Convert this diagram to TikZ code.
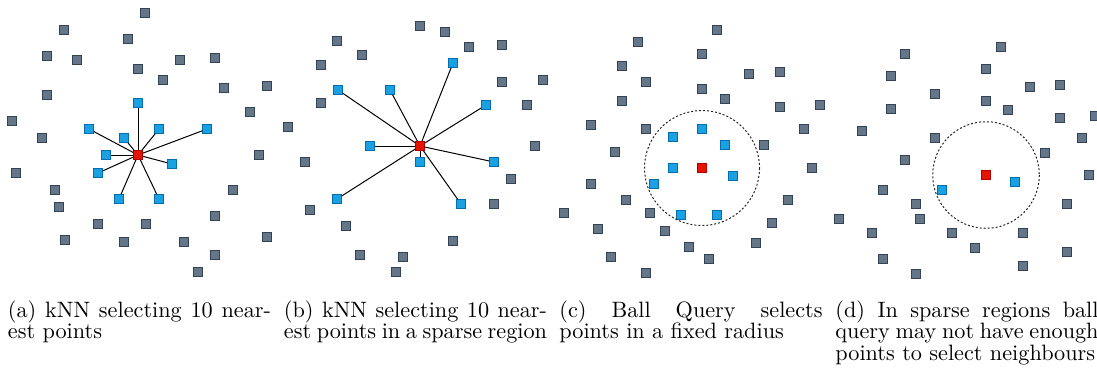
\documentclass[tikz,border=0pt]{standalone}
\usepackage{tikz}

\definecolor{ptfill}{HTML}{647687}
\definecolor{ptline}{HTML}{314354}
\definecolor{nbfill}{HTML}{1BA1E2}
\definecolor{nbline}{HTML}{006EAF}
\definecolor{qfill}{HTML}{E51400}
\definecolor{qline}{HTML}{B20000}

\begin{document}
\begin{tikzpicture}[
  x=0.45pt, y=-0.45pt,
  point/.style={rectangle, draw=ptline, fill=ptfill, line width=0.5pt, minimum size=3.8pt, inner sep=0pt},
  neighbour/.style={point, draw=nbline, fill=nbfill},
  query/.style={point, draw=qline, fill=qfill},
  link/.style={line width=0.45pt},
  ball/.style={draw=black!85, line width=0.45pt, dash pattern=on 0.9pt off 0.9pt},
  caption/.style={anchor=base west, inner sep=0pt, text width=118.4pt, align=justify, font=\fontsize{10}{9.8}\selectfont}
]
\useasboundingbox (0,0) rectangle (1097,370);

% (a) kNN, dense
\node[point] (pa1) at (145,13) {};
\node[point] (pa2) at (64,30) {};
\node[point] (pa3) at (128,39) {};
\node[point] (pa4) at (47,56) {};
\node[point] (pa5) at (77,60) {};
\node[point] (pa6) at (180,60) {};
\node[point] (pa7) at (215,58) {};
\node[point] (pa8) at (138,69) {};
\node[point] (pa9) at (163,80) {};
\node[point] (pa10) at (224,88) {};
\node[point] (pa11) at (267,86) {};
\node[point] (pa12) at (47,95) {};
\node[point] (pa13) at (250,112) {};
\node[point] (pa14) at (12,121) {};
\node[point] (pa15) at (42,138) {};
\node[point] (pa16) at (259,155) {};
\node[point] (pa17) at (16,173) {};
\node[point] (pa18) at (55,190) {};
\node[point] (pa19) at (233,190) {};
\node[point] (pa20) at (59,207) {};
\node[point] (pa21) at (215,216) {};
\node[point] (pa22) at (98,224) {};
\node[point] (pa23) at (146,224) {};
\node[point] (pa24) at (65,240) {};
\node[point] (pa25) at (124,242) {};
\node[point] (pa26) at (184,242) {};
\node[point] (pa27) at (267,237) {};
\node[point] (pa28) at (215,255) {};
\node[point] (pa29) at (198,272) {};
\node[query] (qa) at (138,155) {};
\node[neighbour] (na1) at (138,103) {};
\node[neighbour] (na2) at (89,129) {};
\node[neighbour] (na3) at (159,129) {};
\node[neighbour] (na4) at (207,129) {};
\node[neighbour] (na5) at (124,138) {};
\node[neighbour] (na6) at (106,155) {};
\node[neighbour] (na7) at (172,164) {};
\node[neighbour] (na8) at (98,173) {};
\node[neighbour] (na9) at (119,199) {};
\node[neighbour] (na10) at (159,199) {};
\draw[link] (qa) -- (na1);
\draw[link] (qa) -- (na2);
\draw[link] (qa) -- (na3);
\draw[link] (qa) -- (na4);
\draw[link] (qa) -- (na5);
\draw[link] (qa) -- (na6);
\draw[link] (qa) -- (na7);
\draw[link] (qa) -- (na8);
\draw[link] (qa) -- (na9);
\draw[link] (qa) -- (na10);
\node[caption] (capa) at (7.5,317) {(a) kNN selecting 10 near-\linebreak est points};

% (b) kNN, sparse
\node[point] (pb1) at (420,26) {};
\node[point] (pb2) at (445,32) {};
\node[point] (pb3) at (337,41) {};
\node[point] (pb4) at (469,47) {};
\node[point] (pb5) at (502,45) {};
\node[point] (pb6) at (362,55) {};
\node[point] (pb7) at (321,65) {};
\node[point] (pb8) at (502,82) {};
\node[point] (pb9) at (543,80) {};
\node[point] (pb10) at (321,103) {};
\node[point] (pb11) at (527,105) {};
\node[point] (pb12) at (288,127) {};
\node[point] (pb13) at (535,146) {};
\node[point] (pb14) at (305,162) {};
\node[point] (pb15) at (511,179) {};
\node[point] (pb16) at (494,204) {};
\node[point] (pb17) at (310,210) {};
\node[point] (pb18) at (346,226) {};
\node[point] (pb19) at (453,241) {};
\node[point] (pb20) at (360,255) {};
\node[point] (pb21) at (403,257) {};
\node[point] (pb22) at (396,272) {};
\node[query] (qb) at (420,146) {};
\node[neighbour] (nb1) at (453,63) {};
\node[neighbour] (nb2) at (338,90) {};
\node[neighbour] (nb3) at (390,90) {};
\node[neighbour] (nb4) at (486,105) {};
\node[neighbour] (nb5) at (370,146) {};
\node[neighbour] (nb6) at (420,162) {};
\node[neighbour] (nb7) at (494,162) {};
\node[neighbour] (nb8) at (337,199) {};
\node[neighbour] (nb9) at (461,204) {};
\draw[link] (qb) -- (nb1);
\draw[link] (qb) -- (nb2);
\draw[link] (qb) -- (nb3);
\draw[link] (qb) -- (nb4);
\draw[link] (qb) -- (nb5);
\draw[link] (qb) -- (nb6);
\draw[link] (qb) -- (nb7);
\draw[link] (qb) -- (nb8);
\draw[link] (qb) -- (nb9);
\node[caption] (capb) at (283.5,317) {(b) kNN selecting 10 near-\linebreak est points in a sparse region};

% (c) ball query, dense
\node[point] (pc1) at (717,30) {};
\node[point] (pc2) at (638,42) {};
\node[point] (pc3) at (702,54) {};
\node[point] (pc4) at (622,66) {};
\node[point] (pc5) at (749,74) {};
\node[point] (pc6) at (780,72) {};
\node[point] (pc7) at (646,82) {};
\node[point] (pc8) at (702,89) {};
\node[point] (pc9) at (725,99) {};
\node[point] (pc10) at (622,101) {};
\node[point] (pc11) at (780,107) {};
\node[point] (pc12) at (820,105) {};
\node[point] (pc13) at (591,125) {};
\node[point] (pc14) at (646,129) {};
\node[point] (pc15) at (804,129) {};
\node[point] (pc16) at (764,145) {};
\node[point] (pc17) at (615,152) {};
\node[point] (pc18) at (812,168) {};
\node[point] (pc19) at (591,184) {};
\node[point] (pc20) at (626,200) {};
\node[point] (pc21) at (788,200) {};
\node[point] (pc22) at (564,213) {};
\node[point] (pc23) at (650,213) {};
\node[point] (pc24) at (598,229) {};
\node[point] (pc25) at (665,231) {};
\node[point] (pc26) at (772,223) {};
\node[point] (pc27) at (689,247) {};
\node[point] (pc28) at (756,243) {};
\node[point] (pc29) at (611,257) {};
\node[point] (pc30) at (709,259) {};
\node[point] (pc31) at (646,273) {};
\node[query] (qc) at (702,168) {};
\node[neighbour] (nc1) at (702,129) {};
\node[neighbour] (nc2) at (673,137) {};
\node[neighbour] (nc3) at (725,145) {};
\node[neighbour] (nc4) at (673,168) {};
\node[neighbour] (nc5) at (733,176) {};
\node[neighbour] (nc6) at (654,184) {};
\node[neighbour] (nc7) at (681,215) {};
\node[neighbour] (nc8) at (717,215) {};
\draw[ball] (qc) circle[radius=57.5];
\node[caption] (capc) at (559,317) {(c) Ball Query selects\linebreak points in a fixed radius};

% (d) ball query, sparse
\node[point] (pd1) at (1001,47) {};
\node[point] (pd2) at (905,54) {};
\node[point] (pd3) at (986,69) {};
\node[point] (pd4) at (891,76) {};
\node[point] (pd5) at (1030,87) {};
\node[point] (pd6) at (1060,85) {};
\node[point] (pd7) at (935,94) {};
\node[point] (pd8) at (986,101) {};
\node[point] (pd9) at (1008,110) {};
\node[point] (pd10) at (891,109) {};
\node[point] (pd11) at (1060,118) {};
\node[point] (pd12) at (1095,116) {};
\node[point] (pd13) at (862,131) {};
\node[point] (pd14) at (935,138) {};
\node[point] (pd15) at (1082,138) {};
\node[point] (pd16) at (1045,153) {};
\node[point] (pd17) at (905,160) {};
\node[point] (pd18) at (1089,175) {};
\node[point] (pd19) at (883,190) {};
\node[point] (pd20) at (916,204) {};
\node[point] (pd21) at (1067,204) {};
\node[point] (pd22) at (839,219) {};
\node[point] (pd23) at (920,219) {};
\node[point] (pd24) at (872,233) {};
\node[point] (pd25) at (952,233) {};
\node[point] (pd26) at (1023,233) {};
\node[point] (pd27) at (975,248) {};
\node[point] (pd28) at (1067,252) {};
\node[point] (pd29) at (883,259) {};
\node[point] (pd30) at (1023,266) {};
\node[point] (pd31) at (916,274) {};
\node[query] (qd) at (986,175) {};
\node[neighbour] (nd1) at (942,190) {};
\node[neighbour] (nd2) at (1015,182) {};
\draw[ball] (qd) circle[radius=53.3];
\node[caption] (capd) at (835,317) {(d) In sparse regions ball\linebreak query may not have enough\linebreak points to select neighbours};
\end{tikzpicture}
\end{document}
